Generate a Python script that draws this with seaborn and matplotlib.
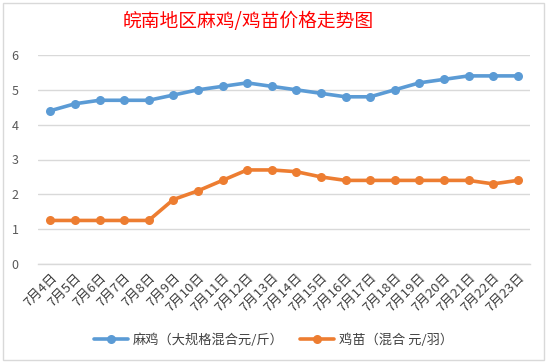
import matplotlib
matplotlib.use("Agg")
import matplotlib.pyplot as plt
import seaborn as sns
import pandas as pd
from matplotlib.patches import Rectangle
from matplotlib.lines import Line2D

dates = ["7月4日", "7月5日", "7月6日", "7月7日", "7月8日", "7月9日", "7月10日", "7月11日",
         "7月12日", "7月13日", "7月14日", "7月15日", "7月16日", "7月17日", "7月18日",
         "7月19日", "7月20日", "7月21日", "7月22日", "7月23日"]
ma_ji = [4.4, 4.6, 4.7, 4.7, 4.7, 4.85, 5.0, 5.1, 5.2, 5.1, 5.0, 4.9, 4.8, 4.8, 5.0,
         5.2, 5.3, 5.4, 5.4, 5.4]
ji_miao = [1.25, 1.25, 1.25, 1.25, 1.25, 1.85, 2.1, 2.4, 2.7, 2.7, 2.65, 2.5, 2.4, 2.4,
           2.4, 2.4, 2.4, 2.4, 2.3, 2.4]
series_names = ["麻鸡（大规格混合元/斤）", "鸡苗（混合 元/羽）"]
yticks = [0, 1, 2, 3, 4, 5, 6]

sns.set_theme(style="white")
plt.rcParams['font.family'] = ['Noto Sans CJK SC', 'DejaVu Sans']

df = pd.DataFrame({
    "idx": list(range(len(dates))) * 2,
    "value": ma_ji + ji_miao,
    "series": [series_names[0]] * len(dates) + [series_names[1]] * len(dates),
})

fig = plt.figure(figsize=(5.47, 3.64), dpi=100)
ax = fig.add_axes([38/547, 1-264/364, (530-38)/547, (264-55)/364])

sns.lineplot(data=df, x="idx", y="value", hue="series", ax=ax,
             palette=["#5B9BD5", "#ED7D31"], marker="o", markersize=6.5,
             markeredgewidth=0, linewidth=2.6, legend=False)

ax.set_xlim(-0.5, len(dates) - 0.5)
ax.set_ylim(0, 6)
ax.set_yticks(yticks)
ax.set_yticklabels([str(v) for v in yticks], fontsize=9, color="#595959")
ax.yaxis.grid(True, color="#D9D9D9", linewidth=1)
ax.set_axisbelow(True)
ax.set_xticks(range(len(dates)))
ax.set_xticklabels(dates, rotation=45, ha="right", va="top", rotation_mode="anchor",
                   fontsize=9.5, color="#404040")
ax.tick_params(axis="x", length=0, pad=5)
ax.tick_params(axis="y", length=0, pad=14)
ax.set_xticks([i - 0.5 for i in range(len(dates) + 1)], minor=True)
ax.tick_params(axis="x", which="minor", length=5, color="#D9D9D9", width=1)
ax.set_xlabel("")
ax.set_ylabel("")
for s in ["top", "right", "left"]:
    ax.spines[s].set_visible(False)
ax.spines["bottom"].set_color("#D9D9D9")
ax.spines["bottom"].set_linewidth(1)

handles = [Line2D([], [], color="#5B9BD5", marker="o", markersize=6.5, markeredgewidth=0, linewidth=2.6),
           Line2D([], [], color="#ED7D31", marker="o", markersize=6.5, markeredgewidth=0, linewidth=2.6)]
fig.legend(handles, series_names, loc="center", bbox_to_anchor=(0.5, 1-340/364),
           ncol=2, frameon=False, fontsize=9.5, labelcolor="#404040",
           handlelength=2.6, columnspacing=1.2, handletextpad=0.4)

fig.text(248/547, 1-22/364, "皖南地区麻鸡/鸡苗价格走势图", color="#FF0000",
         fontsize=13.5, ha="center", va="center", fontweight="medium")

fig.patches.append(Rectangle((3/547, 1-360/364), 541/547, 357/364, transform=fig.transFigure,
                             fill=False, edgecolor="#D9D9D9", linewidth=1))

fig.savefig("out.png", dpi=100)
